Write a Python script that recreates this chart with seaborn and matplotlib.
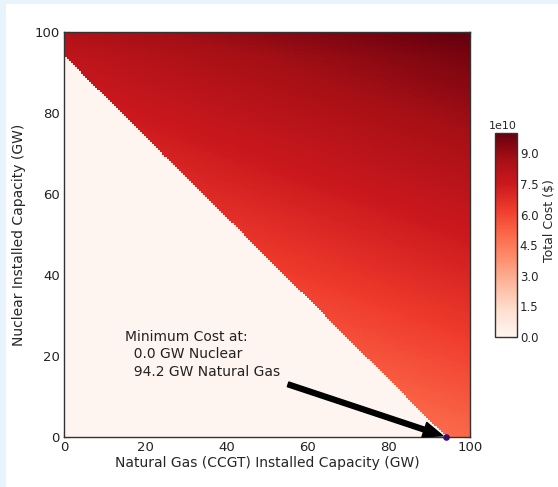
import numpy as np
import pandas as pd
import seaborn as sns
import matplotlib.pyplot as plt
from matplotlib.patches import Rectangle

step = 0.5
gasGW = np.arange(0, 100 + step, step)
nuclearGW = np.arange(0, 100 + step, step)
fixedCost = 2.0e9            # $ regardless of build
gasCapexPerGW = 1.75e8       # $ per GW of CCGT built
nuclearCapexPerGW = 8.2e8    # $ per GW of nuclear built
gasFuelPerGW = 3.3e8         # $ per GW of load served by gas
peakDemandGW = 94.2          # below this the system is infeasible -> 0
minNuclear = 0.0
minGas = 94.2
cbarTicks = [0.0, 1.5e10, 3.0e10, 4.5e10, 6.0e10, 7.5e10, 9.0e10]
axisTicks = [0, 20, 40, 60, 80, 100]

G, N = np.meshgrid(gasGW, nuclearGW)
cost = (fixedCost + gasCapexPerGW * G + nuclearCapexPerGW * N
        + gasFuelPerGW * np.clip(peakDemandGW - N, 0, None))
cost[G + N < peakDemandGW] = 0.0
costDf = pd.DataFrame(cost, index=nuclearGW, columns=gasGW)

sns.set_style('ticks')
plt.rcParams['font.family'] = ['DejaVu Sans']
plt.rcParams['font.size'] = 9.5


def pos(v):
    # heatmap cell j spans [j, j+1]; value v sits in cell v/step
    return v / step + 0.5


fig = plt.figure(figsize=(5.58, 4.87), dpi=100, facecolor='#e9f3fb')
fig.patches.append(Rectangle((6 / 558, 0), 1, (487 - 4) / 487, transform=fig.transFigure,
                             facecolor='white', edgecolor='none', zorder=-1))
ax = fig.add_axes([64 / 558, 50 / 487, 406 / 558, 405 / 487])
cax = fig.add_axes([495 / 558, 150 / 487, 22 / 558, 204 / 487])

sns.heatmap(costDf, ax=ax, cbar_ax=cax, cmap='Reds', vmin=0, vmax=1.0e11,
            xticklabels=False, yticklabels=False, rasterized=True)

ax.set_xlim(pos(0), pos(100))
ax.set_ylim(pos(0), pos(100))
ax.set_xticks([pos(t) for t in axisTicks])
ax.set_xticklabels([str(t) for t in axisTicks])
ax.set_yticks([pos(t) for t in axisTicks])
ax.set_yticklabels([str(t) for t in axisTicks], rotation=0)
ax.tick_params(direction='in', length=4, width=0.8, top=True, right=True,
               labelsize=9.5, colors='#222222', pad=3)
for s in ax.spines.values():
    s.set_visible(True)
    s.set_color('#333333')
    s.set_linewidth(1.0)
ax.set_xlabel('Natural Gas (CCGT) Installed Capacity (GW)', fontsize=10, labelpad=1)
ax.set_ylabel('Nuclear Installed Capacity (GW)', fontsize=10, labelpad=6)

ax.scatter([pos(minGas)], [pos(minNuclear)], s=14, color='#3a0c6e', zorder=5, clip_on=False)
ax.annotate('', xy=(pos(93.3), pos(0.3)), xytext=(pos(55.2), pos(13.0)),
            arrowprops=dict(facecolor='black', edgecolor='black', width=3.5,
                            headwidth=11, headlength=14, shrink=0.0))
ax.text(pos(15.0), pos(26.4), 'Minimum Cost at:\n  0.0 GW Nuclear\n  94.2 GW Natural Gas',
        fontsize=10, va='top', ha='left', linespacing=1.3, color='#222222')

cbar = ax.collections[0].colorbar
cbar.set_ticks(cbarTicks)
cbar.outline.set_edgecolor('#333333')
cbar.outline.set_linewidth(1.0)
cax.tick_params(direction='in', length=4, labelsize=8.5, pad=2)
cax.yaxis.get_offset_text().set_fontsize(8)
cbar.set_label('Total Cost ($)', fontsize=9)
cax.yaxis.set_label_coords(2.18, 0.57)

fig.savefig('out.png', dpi=100, facecolor=fig.get_facecolor())
